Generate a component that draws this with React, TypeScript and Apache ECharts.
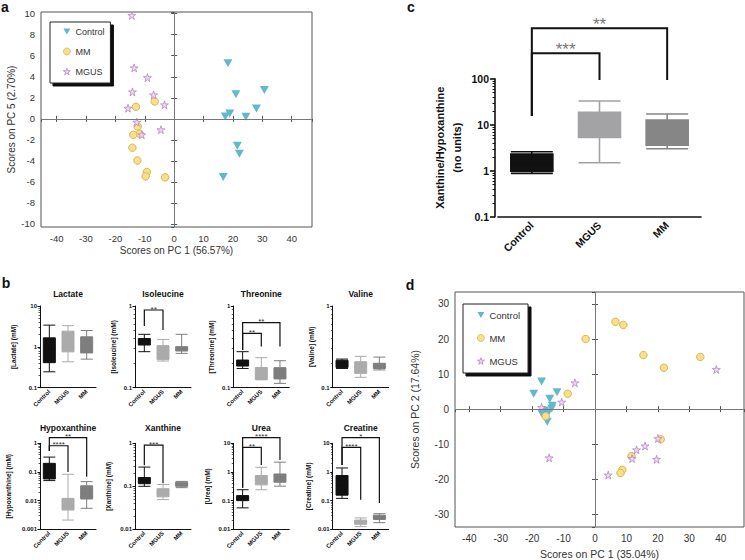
import React, { useEffect, useRef } from "react";
import * as echarts from "echarts";

const FONT = "'Liberation Sans', Arial, Helvetica, sans-serif";
const groups = ["Control", "MGUS", "MM"];
const legendNames = ["Control", "MM", "MGUS"];

// ---- Panel a: PCA scores (PC1 vs PC5)
const aControl = [[18.3, 5.28], [21.0, 2.34], [30.7, 2.75], [28.0, 0.98], [18.9, 0.51], [17.4, 0.22], [24.4, 0.19], [21.5, -2.56], [22.2, -3.32], [16.7, -5.54]];
const aMM = [[-6.6, 1.65], [-13.0, 1.14], [-12.4, -0.73], [-11.7, -1.42], [-13.9, -1.52], [-14.2, -2.75], [-12.5, -3.96], [-9.3, -5.06], [-9.7, -5.47], [-3.1, -5.57]];
const aMGUS = [[-14.4, 9.84], [-13.6, 4.84], [-9.1, 3.92], [-14.2, 2.56], [-7.0, 2.28], [-3.3, 1.33], [-15.7, 1.01], [-12.7, -0.32], [-11.0, -1.52], [-4.5, -1.04]];

// ---- Panel d: PCA scores (PC1 vs PC2)
const dControl = [[-19.5, 4.4], [-17.0, 7.9], [-14.4, 3.0], [-12.1, 4.8], [-13.6, 1.0], [-17.0, -1.2], [-16.0, -0.4], [-14.8, -0.9], [-13.8, 0.2], [-15.2, -3.6]];
const dMM = [[-3.0, 20.0], [6.5, 24.9], [9.0, 24.0], [15.4, 15.4], [21.9, 11.8], [33.5, 14.9], [-8.7, 4.4], [-15.7, -2.0], [20.9, -8.6], [11.6, -13.4], [8.7, -17.3], [8.1, -18.2]];
const dMGUS = [[-6.4, 7.5], [-10.6, 2.0], [-17.0, 0.5], [38.6, 11.3], [-14.6, -13.9], [20.0, -8.4], [15.9, -10.5], [13.2, -11.6], [11.8, -14.1], [19.6, -14.3], [4.2, -18.8]];

// ---- Panel c: Xanthine/Hypoxanthine ratio  [min, Q1, median, Q3, max]
const ratioBoxes = [[0.875, 0.98, 1.4, 2.3, 2.59], [1.49, 5.3, 10, 18.5, 32.7], [3.0, 3.6, 6, 12.6, 17.1]];
const ratioBrackets = [
  { from: 0, to: 2, bar: 1250, endFrom: 15.5, endTo: 94, stars: "**" },
  { from: 0, to: 1, bar: 357, endFrom: 15.5, endTo: 94, stars: "***" },
];

// ---- Panel b: metabolite concentrations (mM) [min, Q1, median, Q3, max] for Control, MGUS, MM
const lactate = [[0.245, 0.41, 0.9, 1.66, 3.4], [0.43, 0.755, 1.3, 2.42, 3.3], [0.5, 0.71, 1.1, 1.76, 2.51]];
const isoleucine = [[0.276, 0.333, 0.37, 0.4, 0.45], [0.212, 0.222, 0.26, 0.327, 0.39], [0.263, 0.281, 0.3, 0.318, 0.45]];
const threonine = [[0.172, 0.184, 0.2, 0.218, 0.276], [0.125, 0.126, 0.15, 0.177, 0.233], [0.113, 0.128, 0.15, 0.176, 0.214]];
const valine = [[0.172, 0.177, 0.2, 0.216, 0.224], [0.134, 0.15, 0.18, 0.208, 0.242], [0.165, 0.172, 0.185, 0.199, 0.237]];
const hypoxanthine = [[0.05, 0.057, 0.1, 0.2, 0.33], [0.0021, 0.0047, 0.008, 0.012, 0.083], [0.0054, 0.0114, 0.018, 0.033, 0.046]];
const xanthine = [[0.1, 0.115, 0.14, 0.16, 0.28], [0.049, 0.057, 0.07, 0.088, 0.11], [0.093, 0.1, 0.112, 0.125, 0.13]];
const urea = [[0.056, 0.1, 0.12, 0.15, 0.24], [0.24, 0.355, 0.5, 0.75, 1.45], [0.32, 0.44, 0.62, 0.85, 2.2]];
const creatine = [[0.12, 0.155, 0.35, 0.75, 1.38], [0.0124, 0.0149, 0.018, 0.021, 0.025], [0.017, 0.022, 0.026, 0.031, 0.035]];

const isoleucineBrackets = [{ from: 0, to: 1, bar: 0.893, endFrom: 0.57, endTo: 0.51, stars: "**" }];
const threonineBrackets = [
  { from: 0, to: 2, bar: 0.625, endFrom: 0.29, endTo: 0.32, stars: "**" },
  { from: 0, to: 1, bar: 0.463, endFrom: 0.29, endTo: 0.32, stars: "**" },
];
const hypoxanthineBrackets = [
  { from: 0, to: 2, bar: 1.57, endFrom: 0.54, endTo: 0.068, stars: "**" },
  { from: 0, to: 1, bar: 0.82, endFrom: 0.54, endTo: 0.1, stars: "****" },
];
const xanthineBrackets = [{ from: 0, to: 1, bar: 0.91, endFrom: 0.31, endTo: 0.117, stars: "***" }];
const ureaBrackets = [
  { from: 0, to: 2, bar: 15.7, endFrom: 0.28, endTo: 2.6, stars: "****" },
  { from: 0, to: 1, bar: 7.25, endFrom: 0.28, endTo: 1.75, stars: "**" },
];
const creatineBrackets = [
  { from: 0, to: 2, bar: 15.7, endFrom: 1.75, endTo: 0.083, stars: "*" },
  { from: 0, to: 1, bar: 7.25, endFrom: 1.75, endTo: 0.107, stars: "****" },
];

const metabolites = [
  { title: "Lactate", yName: "[Lactate] (mM)", min: 0.1, max: 10, boxes: lactate, brackets: [] as any[] },
  { title: "Isoleucine", yName: "[Isoleucine] (mM)", min: 0.1, max: 1, boxes: isoleucine, brackets: isoleucineBrackets },
  { title: "Threonine", yName: "[Threonine] (mM)", min: 0.1, max: 1, boxes: threonine, brackets: threonineBrackets },
  { title: "Valine", yName: "[Valine] (mM)", min: 0.1, max: 1, boxes: valine, brackets: [] as any[] },
  { title: "Hypoxanthine", yName: "[Hypoxanthine] (mM)", min: 0.001, max: 1, boxes: hypoxanthine, brackets: hypoxanthineBrackets },
  { title: "Xanthine", yName: "[Xanthine] (mM)", min: 0.01, max: 1, boxes: xanthine, brackets: xanthineBrackets },
  { title: "Urea", yName: "[Urea] (mM)", min: 0.01, max: 10, boxes: urea, brackets: ureaBrackets },
  { title: "Creatine", yName: "[Creatine] (mM)", min: 0.01, max: 10, boxes: creatine, brackets: creatineBrackets },
];

// ---- layout / style (not data)
const smallLefts = [40, 135, 233.3, 332.7];
const smallRows = [{ top: 306, height: 81.7, titleY: 293.5 }, { top: 443.3, height: 86, titleY: 427.5 }];
const smallNameGaps = [23, 18, 18, 18, 28, 23, 22, 21];
const smallWidth = 56;
const boxColorsB = ["#111111", "#ababab", "#7e7e7e"];
const boxColorsC = ["#111111", "#a3a3a5", "#868686"];

const TRI = "path://M0,0 L10,0 L5,8.7 Z";
const STAR = "path://M50,0 L61.2,34.5 L97.6,34.5 L68.2,55.9 L79.4,90.5 L50,69.1 L20.6,90.5 L31.8,55.9 L2.4,34.5 L38.8,34.5 Z";

function bracketSeries(xi: number, yi: number, list: any[], lw: number, fs: number, color: string, gap: number) {
  return {
    type: "custom",
    xAxisIndex: xi,
    yAxisIndex: yi,
    clip: false,
    silent: true,
    z: 5,
    encode: { x: 0, y: 1 },
    data: list.map((b) => [b.from, b.bar, b.to, b.endFrom, b.endTo]),
    renderItem: (params: any, api: any) => {
      const b = list[params.dataIndex];
      const f = api.value(0);
      const bar = api.value(1);
      const t = api.value(2);
      const p1 = api.coord([f, bar]);
      const p2 = api.coord([t, bar]);
      const e1 = api.coord([f, api.value(3)]);
      const e2 = api.coord([t, api.value(4)]);
      return {
        type: "group",
        children: [
          { type: "polyline", shape: { points: [e1, p1, p2, e2] }, style: { stroke: "#111", lineWidth: lw, fill: null } },
          {
            type: "text",
            x: (p1[0] + p2[0]) / 2,
            y: p1[1] - gap,
            style: { text: b.stars, align: "center", verticalAlign: "middle", fontSize: fs, lineHeight: fs * 0.6, fill: color, fontFamily: FONT },
          },
        ],
      };
    },
  };
}

function scatterAxes(gi: number, xr: number[], yr: number[], xs: number, ys: number, xName: string, yName: string, fs: number, xGap: number, yGap: number) {
  const tick = { inside: true, length: 3, lineStyle: { color: "#555" } };
  const lab = { fontSize: fs, color: "#333", fontFamily: FONT, showMinLabel: false, showMaxLabel: false, margin: 6 };
  const nameStyle = { fontSize: fs + 0.5, color: "#333", fontFamily: FONT };
  const xAxes = [
    { gridIndex: gi, type: "value", min: xr[0], max: xr[1], splitNumber: xs, axisLine: { show: false }, axisTick: tick, splitLine: { show: false }, axisLabel: lab, name: xName, nameLocation: "middle", nameGap: xGap, nameTextStyle: nameStyle },
    { gridIndex: gi, type: "value", position: "top", min: xr[0], max: xr[1], splitNumber: xs, axisLine: { show: false }, axisTick: tick, splitLine: { show: false }, axisLabel: { show: false } },
  ];
  const yAxes = [
    { gridIndex: gi, type: "value", min: yr[0], max: yr[1], splitNumber: ys, axisLine: { show: false }, axisTick: tick, splitLine: { show: false }, axisLabel: lab, name: yName, nameLocation: "middle", nameGap: yGap, nameTextStyle: nameStyle },
    { gridIndex: gi, type: "value", position: "right", min: yr[0], max: yr[1], splitNumber: ys, axisLine: { show: false }, axisTick: tick, splitLine: { show: false }, axisLabel: { show: false } },
  ];
  return { xAxes, yAxes };
}

function scatterSeries(xi: number, yi: number, ctrl: number[][], mm: number[][], mgus: number[][]) {
  return [
    {
      name: "Control", type: "scatter", xAxisIndex: xi, yAxisIndex: yi, data: ctrl, symbol: TRI, symbolSize: [9, 8],
      itemStyle: { color: "#63b9cb", opacity: 1 },
      markLine: { silent: true, symbol: "none", label: { show: false }, lineStyle: { color: "#777", width: 1, type: "solid" }, data: [{ xAxis: 0 }, { yAxis: 0 }] },
    },
    { name: "MM", type: "scatter", xAxisIndex: xi, yAxisIndex: yi, data: mm, symbol: "circle", symbolSize: 7.5, itemStyle: { color: "#f6df8f", borderColor: "#d9b84f", borderWidth: 1, opacity: 1 } },
    { name: "MGUS", type: "scatter", xAxisIndex: xi, yAxisIndex: yi, data: mgus, symbol: STAR, symbolSize: 8, itemStyle: { color: "#eed8f1", borderColor: "#b487c3", borderWidth: 0.8, opacity: 1 } },
  ];
}

function boxData(boxes: number[][], colors: string[]) {
  return boxes.map((v, i) => ({ value: v, itemStyle: { color: colors[i], borderColor: colors[i] } }));
}

function buildOption() {
  const grid: any[] = [];
  const xAxis: any[] = [];
  const yAxis: any[] = [];
  const series: any[] = [];
  const graphic: any[] = [];

  // Panel a
  grid.push({ left: 41, top: 12, width: 271, height: 215, show: true, borderColor: "#555", borderWidth: 1 });
  const aAx = scatterAxes(0, [-45.3, 46.9], [-10.29, 10.16], 9, 10, "Scores on PC 1 (56.57%)", "Scores on PC 5 (2.70%)", 9.5, 18, 25);
  xAxis.push(...aAx.xAxes);
  yAxis.push(...aAx.yAxes);
  series.push(...scatterSeries(0, 0, aControl, aMM, aMGUS));

  // Panel c
  grid.push({ left: 498, top: 78.7, width: 203, height: 138 });
  const cIdx = xAxis.length;
  xAxis.push({
    gridIndex: 1, type: "category", data: groups,
    axisLine: { lineStyle: { color: "#111", width: 1.6 } },
    axisTick: { alignWithLabel: true, length: 5, lineStyle: { color: "#111", width: 1.6 } },
    axisLabel: { rotate: 45, fontSize: 10.5, fontWeight: "bold", color: "#111", fontFamily: FONT, margin: 7 },
  });
  yAxis.push({
    gridIndex: 1, type: "log", logBase: 10, min: 0.1, max: 100, offset: 3,
    axisLine: { show: true, lineStyle: { color: "#111", width: 1.6 } },
    axisTick: { show: true, length: 5, lineStyle: { color: "#111", width: 1.6 } },
    minorTick: { show: true, splitNumber: 9, length: 2.5, lineStyle: { color: "#111", width: 1 } },
    splitLine: { show: false },
    axisLabel: { fontSize: 10.5, fontWeight: "bold", color: "#111", fontFamily: FONT, margin: 6 },
    name: "Xanthine/Hypoxanthine\n(no units)", nameLocation: "middle", nameGap: 30,
    nameTextStyle: { fontSize: 11, fontWeight: "bold", color: "#111", fontFamily: FONT, lineHeight: 17 },
  });
  series.push({ type: "boxplot", xAxisIndex: cIdx, yAxisIndex: cIdx, boxWidth: [42, 42], data: boxData(ratioBoxes, boxColorsC), itemStyle: { borderWidth: 1.6 } });
  series.push(bracketSeries(cIdx, cIdx, ratioBrackets, 2, 17, "#777", 4));

  // Panel b
  metabolites.forEach((m, k) => {
    const row = smallRows[Math.floor(k / 4)];
    const left = smallLefts[k % 4];
    const gi = grid.length;
    grid.push({ left, top: row.top, width: smallWidth, height: row.height });
    const ai = xAxis.length;
    xAxis.push({
      gridIndex: gi, type: "category", data: groups,
      axisLine: { lineStyle: { color: "#111", width: 1 } },
      axisTick: { alignWithLabel: true, length: 2.5, lineStyle: { color: "#111", width: 1 } },
      axisLabel: { rotate: 45, fontSize: 6, fontWeight: "bold", color: "#111", fontFamily: FONT, margin: 3 },
    });
    yAxis.push({
      gridIndex: gi, type: "log", logBase: 10, min: m.min, max: m.max,
      axisLine: { show: true, lineStyle: { color: "#111", width: 1 } },
      axisTick: { show: true, length: 2.5, lineStyle: { color: "#111", width: 1 } },
      minorTick: { show: true, splitNumber: 9, length: 1.5, lineStyle: { color: "#111", width: 0.7 } },
      splitLine: { show: false },
      axisLabel: { fontSize: 6, fontWeight: "bold", color: "#111", fontFamily: FONT, margin: 3 },
      name: m.yName, nameLocation: "middle", nameGap: smallNameGaps[k],
      nameTextStyle: { fontSize: 6.5, fontWeight: "bold", color: "#111", fontFamily: FONT },
    });
    series.push({ type: "boxplot", xAxisIndex: ai, yAxisIndex: ai, boxWidth: [12, 12], data: boxData(m.boxes, boxColorsB), itemStyle: { borderWidth: 1 } });
    if (m.brackets.length) series.push(bracketSeries(ai, ai, m.brackets, 1.2, 8, "#333", 1));
    graphic.push({
      type: "text", x: left + smallWidth / 2, y: row.titleY,
      style: { text: m.title, align: "center", verticalAlign: "middle", fontSize: 8.5, lineHeight: 9, fontWeight: "bold", fill: "#111", fontFamily: FONT },
    });
  });

  // Panel d
  const dGrid = grid.length;
  grid.push({ left: 455, top: 292, width: 289, height: 235, show: true, borderColor: "#555", borderWidth: 1 });
  const dIdx = xAxis.length;
  const dAx = scatterAxes(dGrid, [-44.55, 47.4], [-33.6, 33.4], 9, 7, "Scores on PC 1 (35.04%)", "Scores on PC 2 (17.64%)", 10, 21, 35);
  xAxis.push(...dAx.xAxes);
  yAxis.push(...dAx.yAxes);
  series.push(...scatterSeries(dIdx, dIdx, dControl, dMM, dMGUS));

  // panel letters
  const letter = (t: string, x: number, y: number) => ({
    type: "text", x, y, style: { text: t, align: "center", verticalAlign: "middle", fontSize: 14, lineHeight: 12, fontWeight: "bold", fill: "#111", fontFamily: FONT },
  });
  graphic.push(letter("a", 5, 7), letter("b", 6, 283), letter("c", 411, 7), letter("d", 410, 285));

  const legendItems = [
    { name: "Control", icon: TRI, itemStyle: { color: "#63b9cb", borderWidth: 0 } },
    { name: "MM", icon: "circle", itemStyle: { color: "#f6df8f", borderColor: "#d9b84f", borderWidth: 0.8 } },
    { name: "MGUS", icon: STAR, itemStyle: { color: "#eed8f1", borderColor: "#b487c3", borderWidth: 0.8 } },
  ];
  const legendBase = {
    data: legendItems, orient: "vertical", selectedMode: false,
    itemWidth: 7, itemHeight: 7, backgroundColor: "#fff", borderColor: "#222", borderWidth: 1,
    shadowColor: "#111", shadowOffsetX: 3, shadowOffsetY: 3, shadowBlur: 0,
    textStyle: { color: "#333", fontFamily: FONT },
  };
  const legend = [
    { ...legendBase, left: 50, top: 22, itemGap: 11, padding: [5, 6, 7, 13], textStyle: { ...legendBase.textStyle, fontSize: 9 } },
    { ...legendBase, left: 463, top: 304, itemGap: 13, padding: [6, 8, 7, 14], textStyle: { ...legendBase.textStyle, fontSize: 9.5 } },
  ];

  return { animation: false, backgroundColor: "#fff", grid, xAxis, yAxis, series, legend, graphic };
}

export default function App() {
  const ref = useRef<HTMLDivElement>(null);
  useEffect(() => {
    document.body.style.margin = "0";
    if (!ref.current) return;
    const chart = echarts.init(ref.current, undefined, { renderer: "svg" });
    chart.setOption(buildOption() as any);
    return () => chart.dispose();
  }, []);
  return <div ref={ref} style={{ position: "fixed", left: 0, top: 0, width: 745, height: 560 }} />;
}
